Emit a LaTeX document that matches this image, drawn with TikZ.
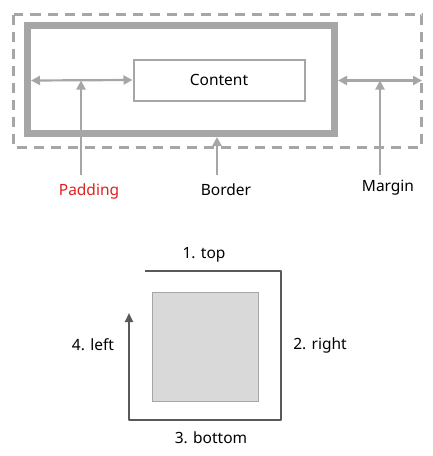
\documentclass[tikz,border=0pt]{standalone}
\usepackage{fontspec}
\setmainfont{Noto Sans}
\usetikzlibrary{arrows.meta}
\definecolor{lg}{HTML}{A6A6A6}
\definecolor{dg}{HTML}{595959}
\definecolor{sq}{HTML}{D9D9D9}
\definecolor{pred}{HTML}{E02020}
\tikzset{
  lbl/.style={font=\fontsize{15.5}{18}\selectfont, inner sep=0pt, text=black},
  garrow/.style={draw=lg, line width=2.2pt, -{Triangle[length=9pt,width=9pt]}},
  gdarrow/.style={draw=lg, line width=2.2pt, {Triangle[length=9pt,width=9pt]}-{Triangle[length=9pt,width=9pt]}},
  path/.style={draw=dg, line width=2.2pt, line join=round}
}
\begin{document}
\begin{tikzpicture}[x=1pt,y=-1pt]
\useasboundingbox (0,0) rectangle (432,456);
% margin (dashed)
\draw[lg, line width=3pt, dash pattern=on 10pt off 7pt] (13.5,14.5) rectangle (421.5,147);
% border
\draw[lg, line width=7pt] (27.5,25.5) rectangle (334.5,133.5);
\coordinate (bin) at (31,80.5);
\coordinate (bout) at (338,80.5);
\coordinate (mout) at (422,80.5);
\coordinate (bbot) at (217,137);
% content
\node[draw=lg, line width=2pt, minimum width=171pt, minimum height=41pt, inner sep=0pt] (content) at (219,80) {};
\node[lbl] at (content.center) {Content};
% padding arrows
\draw[gdarrow] (bin) -- (content.west);
\draw[gdarrow] (bout) -- (mout);
\coordinate (pj) at (81,80.5);
\coordinate (mj) at (380,80.5);
% labels
\node[lbl, text=pred] (pad) at (89,191) {Padding};
\node[lbl] (bor) at (226,190) {Border};
\node[lbl] (mar) at (388,188) {Margin};
\draw[garrow] (81,175) -- (pj);
\draw[garrow] (217,175) -- (bbot);
\draw[garrow] (380,175) -- (mj);
% bottom
\node[draw=lg, fill=sq, line width=1.2pt, minimum width=106pt, minimum height=109pt, inner sep=0pt] (box) at (205.5,347) {};
\coordinate (p1) at (145,271);
\coordinate (p2) at (281,271);
\coordinate (p3) at (281,420);
\coordinate (p4) at (129,420);
\coordinate (p5) at (129,313);
\draw[path, -{Triangle[length=9pt,width=8pt]}] (p1) -- (p2) -- (p3) -- (p4) -- (p5);
\node[lbl] (top) at (204,255) {1. top};
\node[lbl] (right) at (320,345) {2. right};
\node[lbl] (left) at (93,345) {4. left};
\node[lbl] (bottom) at (211,438) {3. bottom};
\end{tikzpicture}
\end{document}
